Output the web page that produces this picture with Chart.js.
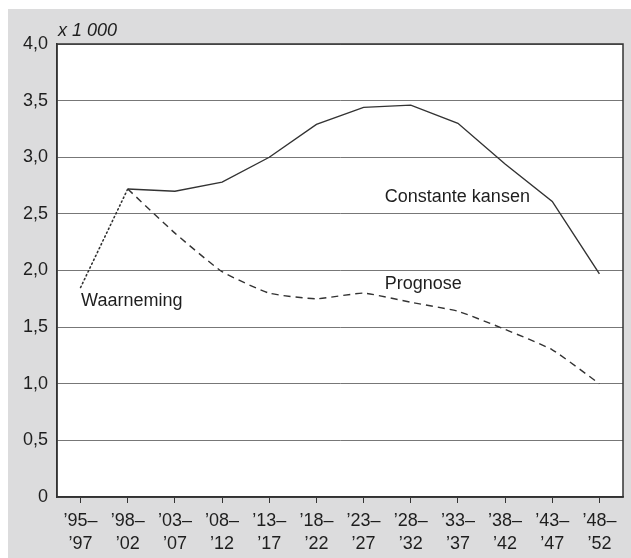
<!DOCTYPE html>
<html>
<head>
<meta charset="utf-8">
<script src="https://cdn.jsdelivr.net/npm/chart.js@4/dist/chart.umd.min.js"></script>
<style>
html,body{margin:0;padding:0;background:#ffffff;}
#wrap{width:631px;height:558px;position:relative;}
</style>
</head>
<body>
<div id="wrap"><canvas id="c" width="631" height="558"></canvas></div>
<script>
const categories = [
  ['’95–','’97'], ['’98–','’02'], ['’03–','’07'], ['’08–','’12'],
  ['’13–','’17'], ['’18–','’22'], ['’23–','’27'], ['’28–','’32'],
  ['’33–','’37'], ['’38–','’42'], ['’43–','’47'], ['’48–','’52']
];
const waarneming = [1.85, 2.72, null, null, null, null, null, null, null, null, null, null];
const constanteKansen = [null, 2.72, 2.70, 2.78, 3.00, 3.29, 3.44, 3.46, 3.30, 2.94, 2.61, 1.97];
const prognose = [null, 2.72, 2.33, 1.99, 1.80, 1.75, 1.80, 1.72, 1.64, 1.48, 1.30, 1.00];
const yTicks = [0, 0.5, 1.0, 1.5, 2.0, 2.5, 3.0, 3.5, 4.0];
const unitLabel = 'x 1 000';
const seriesLabels = [
  {text: 'Constante kansen', x: 6.45, y: 2.65},
  {text: 'Prognose', x: 6.45, y: 1.88},
  {text: 'Waarneming', x: 0.01, y: 1.73}
];

const FONT = '"Liberation Sans", Arial, Helvetica, sans-serif';
const LINE = '#333333';
const TEXT = '#1e1e1e';

const bgPlugin = {
  id: 'bg',
  beforeDraw(chart) {
    const ctx = chart.ctx;
    ctx.save();
    ctx.fillStyle = '#dcdcdd';
    ctx.fillRect(8, 9, chart.width - 8, chart.height - 9);
    const a = chart.chartArea;
    ctx.fillStyle = '#ffffff';
    ctx.fillRect(a.left, a.top, a.right - a.left, a.bottom - a.top);
    ctx.restore();
  },
  afterDraw(chart) {
    const ctx = chart.ctx;
    const a = chart.chartArea;
    const xs = chart.scales.x, ys = chart.scales.y;
    ctx.save();
    ctx.strokeStyle = LINE;
    ctx.lineWidth = 1.5;
    ctx.strokeRect(a.left, a.top, a.right - a.left, a.bottom - a.top);
    ctx.fillStyle = TEXT;
    ctx.font = '18px ' + FONT;
    ctx.textBaseline = 'middle';
    ctx.textAlign = 'left';
    seriesLabels.forEach(l => {
      ctx.fillText(l.text, xs.getPixelForValue(l.x), ys.getPixelForValue(l.y));
    });
    ctx.font = 'italic 18px ' + FONT;
    ctx.fillText(unitLabel, a.left + 1, ys.getPixelForValue(4.115));
    ctx.restore();
  }
};

new Chart(document.getElementById('c'), {
  type: 'line',
  data: {
    labels: categories,
    datasets: [
      {label: 'Waarneming', data: waarneming, borderColor: LINE, borderWidth: 1.6,
       borderDash: [1.3, 3], borderCapStyle: 'round', pointRadius: 0, tension: 0, spanGaps: false},
      {label: 'Constante kansen', data: constanteKansen, borderColor: LINE, borderWidth: 1.4,
       pointRadius: 0, tension: 0},
      {label: 'Prognose', data: prognose, borderColor: LINE, borderWidth: 1.4,
       borderDash: [7, 5], pointRadius: 0, tension: 0.15}
    ]
  },
  options: {
    responsive: false,
    animation: false,
    devicePixelRatio: 1,
    layout: {padding: {left: 0, top: 44, right: 8, bottom: 0}},
    plugins: {legend: {display: false}, tooltip: {enabled: false}},
    scales: {
      x: {
        type: 'category',
        offset: true,
        grid: {display: true, offset: false, drawOnChartArea: false, drawTicks: true,
               tickLength: 6, color: LINE, lineWidth: 1},
        border: {display: true, color: LINE, width: 1.5},
        ticks: {color: TEXT, font: {family: FONT, size: 18, lineHeight: 1.25},
                padding: 7, maxRotation: 0, minRotation: 0, autoSkip: false},
        afterFit(scale) { scale.height = 61; }
      },
      y: {
        min: 0, max: 4,
        afterBuildTicks(scale) { scale.ticks = yTicks.map(v => ({value: v})); },
        grid: {color: '#777777', lineWidth: 1, drawTicks: false},
        border: {display: true, color: LINE, width: 1.5},
        ticks: {color: TEXT, font: {family: FONT, size: 18}, padding: 9,
                callback: v => v === 0 ? '0' : v.toFixed(1).replace('.', ',')},
        afterFit(scale) { scale.width = 57; }
      }
    }
  },
  plugins: [bgPlugin]
});
</script>
</body>
</html>
